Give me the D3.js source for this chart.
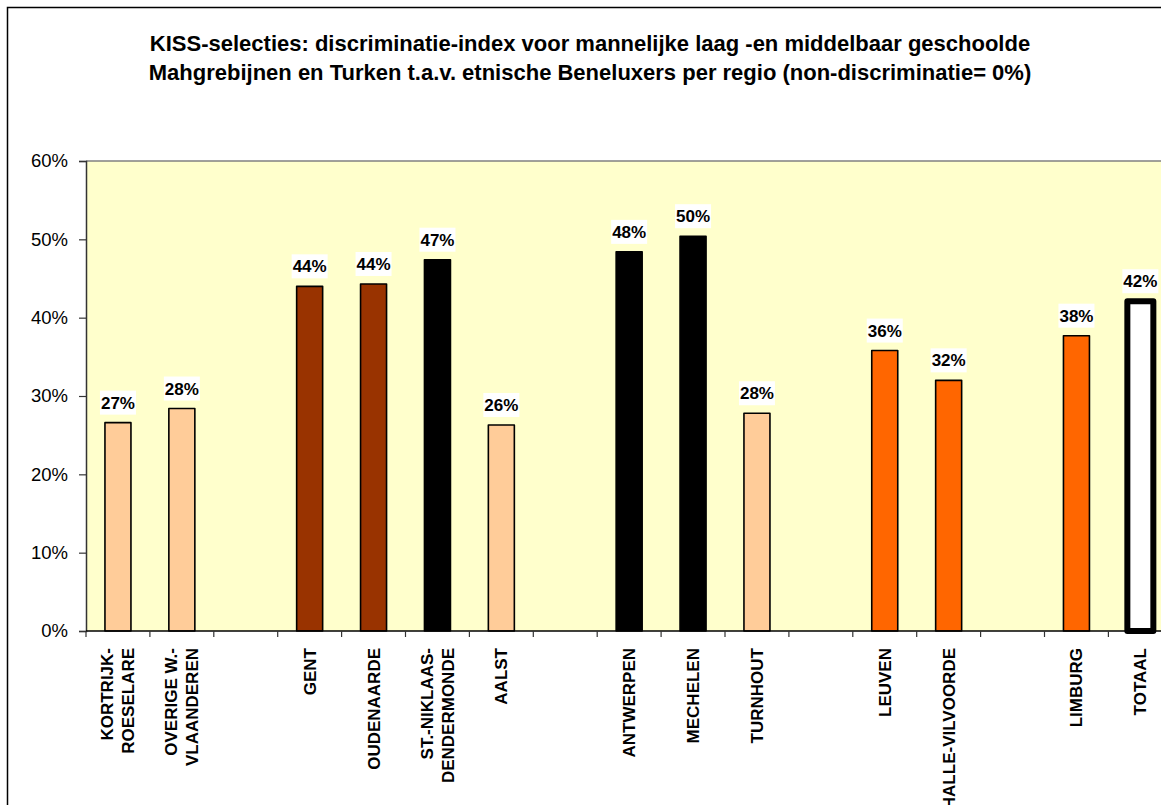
<!DOCTYPE html>
<html>
<head>
<meta charset="utf-8">
<script src="https://cdn.jsdelivr.net/npm/d3@7"></script>
<style>
  html, body { margin: 0; padding: 0; background: #fff; }
  svg { display: block; font-family: "Liberation Sans", Arial, sans-serif; }
</style>
</head>
<body>
<div id="chart"></div>
<script>
const width = 1161;
const height = 805;

// regio's; lege plaatsen zijn de tussenruimtes tussen de provincies
const regions = [
    "KORTRIJK-|ROESELARE", "OVERIGE W.-|VLAANDEREN", "",
    "GENT", "OUDENAARDE", "ST.-NIKLAAS-|DENDERMONDE", "AALST", "",
    "ANTWERPEN", "MECHELEN", "TURNHOUT", "",
    "LEUVEN", "HALLE-VILVOORDE", "",
    "LIMBURG", "TOTAAL"
];
const values = [
    0.266, 0.284, null,
    0.440, 0.443, 0.474, 0.263, null,
    0.484, 0.504, 0.278, null,
    0.358, 0.320, null,
    0.377, 0.421
];
const groups = [
    "licht", "licht", "",
    "bruin", "bruin", "zwart", "licht", "",
    "zwart", "zwart", "licht", "",
    "oranje", "oranje", "",
    "oranje", "totaal"
];
const yTicks = [0, 0.1, 0.2, 0.3, 0.4, 0.5, 0.6];
const titleLines = [
    "KISS-selecties: discriminatie-index voor mannelijke laag -en middelbaar geschoolde",
    "Mahgrebijnen en Turken t.a.v. etnische Beneluxers per regio (non-discriminatie= 0%)"
];

const fill = d3.scaleOrdinal()
    .domain(["licht", "bruin", "zwart", "oranje", "totaal"])
    .range(["#FFCC99", "#993300", "#000000", "#FF6600", "#FFFFFF"]);

const plot = { left: 86, top: 161, bottom: 631, slot: 63.9 };
plot.right = plot.left + plot.slot * regions.length;

const svg = d3.select("#chart").append("svg")
    .attr("width", width)
    .attr("height", height);

// kader rond de grafiek (loopt rechts en onderaan buiten beeld)
svg.append("rect")
    .attr("x", 7.5).attr("y", 7.5)
    .attr("width", 1200).attr("height", 900)
    .attr("fill", "#fff")
    .attr("stroke", "#000")
    .attr("stroke-width", 1.5);

svg.append("g")
    .selectAll("text")
    .data(titleLines)
    .join("text")
    .attr("x", 590)
    .attr("y", (d, i) => 51 + i * 29)
    .attr("text-anchor", "middle")
    .attr("font-size", 22)
    .attr("font-weight", "bold")
    .text(d => d);

const x = d3.scaleBand()
    .domain(d3.range(regions.length))
    .range([plot.left, plot.right])
    .paddingInner(0)
    .paddingOuter(0);

const y = d3.scaleLinear()
    .domain([0, 0.6])
    .range([plot.bottom, plot.top]);

// plotgebied
svg.append("rect")
    .attr("x", plot.left).attr("y", plot.top)
    .attr("width", plot.right - plot.left)
    .attr("height", plot.bottom - plot.top)
    .attr("fill", "#FFFFCC");
svg.append("line")
    .attr("x1", plot.left).attr("x2", plot.right)
    .attr("y1", plot.top).attr("y2", plot.top)
    .attr("stroke", "#808080")
    .attr("stroke-width", 1.5);

const barW = 26;
const bars = regions.map((r, i) => ({ i, r, v: values[i], g: groups[i] }))
    .filter(d => d.v !== null);

svg.append("g")
    .selectAll("rect")
    .data(bars)
    .join("rect")
    .attr("x", d => x(d.i) + x.bandwidth() / 2 - barW / 2)
    .attr("y", d => y(d.v))
    .attr("width", barW)
    .attr("height", d => y(0) - y(d.v))
    .attr("fill", d => fill(d.g))
    .attr("stroke", "#000")
    .attr("stroke-width", d => d.g === "totaal" ? 6 : 1.6)
    .attr("stroke-linejoin", "round");

// waardelabels met witte achtergrond
const labels = svg.append("g")
    .selectAll("g")
    .data(bars)
    .join("g")
    .attr("transform", d => `translate(${x(d.i) + x.bandwidth() / 2},${y(d.v) - 14})`);
labels.append("rect")
    .attr("x", -18).attr("y", -18)
    .attr("width", 36).attr("height", 24)
    .attr("fill", "#fff");
labels.append("text")
    .attr("text-anchor", "middle")
    .attr("font-size", 17)
    .attr("font-weight", "bold")
    .text(d => d3.format(".0%")(d.v));

// y-as
const yAxis = svg.append("g")
    .attr("transform", `translate(${plot.left},0)`)
    .call(d3.axisLeft(y).tickValues(yTicks).tickFormat(d3.format(".0%")).tickSize(7).tickPadding(11));
yAxis.select(".domain").attr("stroke", "#333").attr("stroke-width", 1.5);
yAxis.selectAll(".tick line").attr("stroke", "#333").attr("stroke-width", 1.2);
yAxis.selectAll(".tick text")
    .attr("font-size", 18.5)
    .attr("font-family", "Liberation Sans, Arial, sans-serif")
    .attr("fill", "#000");

// x-as met streepjes op de grenzen van elke plaats
const xEdges = d3.range(regions.length + 1).map(i => plot.left + i * x.step());
svg.append("line")
    .attr("x1", plot.left).attr("x2", plot.right)
    .attr("y1", plot.bottom).attr("y2", plot.bottom)
    .attr("stroke", "#000")
    .attr("stroke-width", 1.5);
svg.append("g")
    .selectAll("line")
    .data(xEdges)
    .join("line")
    .attr("x1", d => d).attr("x2", d => d)
    .attr("y1", plot.bottom).attr("y2", plot.bottom + 6)
    .attr("stroke", "#333")
    .attr("stroke-width", 1.2);

const xLabels = svg.append("g")
    .selectAll("text")
    .data(regions.map((r, i) => ({ i, lines: r ? r.split("|") : [] })))
    .join("text")
    .attr("transform", d => `translate(${x(d.i) + x.bandwidth() / 2},648) rotate(-90)`)
    .attr("text-anchor", "end")
    .attr("font-size", 17)
    .attr("font-weight", "bold");
xLabels.selectAll("tspan")
    .data(d => d.lines.map((t, k) => ({ t, k, n: d.lines.length })))
    .join("tspan")
    .attr("x", 0)
    .attr("y", d => (d.k - (d.n - 1) / 2) * 21 + 6)
    .text(d => d.t);
</script>
</body>
</html>
